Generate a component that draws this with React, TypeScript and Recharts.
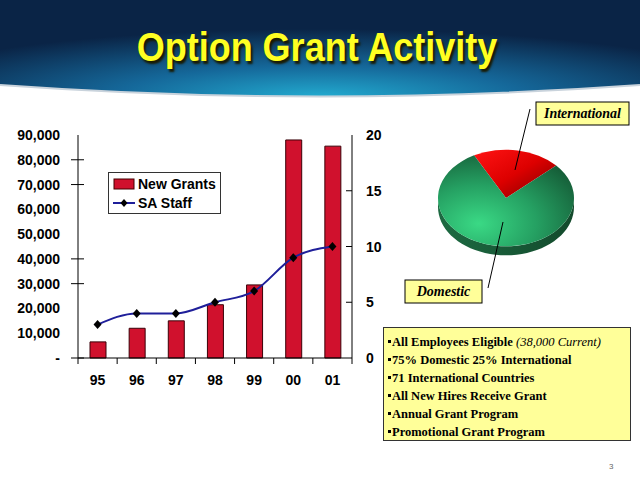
import React from "react";
import { ComposedChart, Bar, Line, XAxis, YAxis, Legend, PieChart, Pie, Cell } from "recharts";

// bar + line data
const years = ["95", "96", "97", "98", "99", "00", "01"];
const newGrants = [6500, 12000, 15000, 21500, 29500, 88000, 85500];
const saStaff = [3, 4, 4, 5, 6, 9, 10];
const grantTicks = [0, 10000, 20000, 30000, 40000, 50000, 60000, 70000, 80000, 90000];
const grantTickMarks = [0, 30000, 40000, 70000, 80000];
const staffTicks = [0, 5, 10, 15, 20];
const staffTickMarks = [5, 10, 15];

// pie data
const pieNames = ["International", "Domestic"];
const pieValues = [21, 79];
const pieFills = ["url(#redGrad)", "url(#greenGrad)"];

const bullets = [
  "All Employees Eligible",
  "75% Domestic 25% International",
  "71 International Countries",
  "All New Hires Receive Grant",
  "Annual Grant Program",
  "Promotional Grant Program",
];
const bulletNote = "(38,000 Current)";

const chartData = years.map((y, i) => ({ year: y, grants: newGrants[i], staff: saStaff[i] }));
const pieData = pieNames.map((n, i) => ({ name: n, value: pieValues[i] }));

const SANS = "'Liberation Sans', Arial, sans-serif";
const SERIF = "'Liberation Serif', 'Times New Roman', serif";

function GrantTick(props: any) {
  const { x, y, payload } = props;
  const v = payload.value as number;
  const axisX = x + 18;
  return (
    <g>
      {grantTickMarks.includes(v) && <line x1={axisX - 7} x2={axisX + 6} y1={y} y2={y} stroke="#000" />}
      <text x={x} y={y} dy={5} textAnchor="end" fontFamily={SANS} fontWeight="bold" fontSize={14} fill="#000">
        {v === 0 ? "-" : v.toLocaleString("en-US")}
      </text>
    </g>
  );
}

function StaffTick(props: any) {
  const { x, y, payload } = props;
  const v = payload.value as number;
  const axisX = x - 14;
  return (
    <g>
      {staffTickMarks.includes(v) && <line x1={axisX - 6} x2={axisX} y1={y} y2={y} stroke="#000" />}
      <text x={x} y={y} dy={5} textAnchor="start" fontFamily={SANS} fontWeight="bold" fontSize={14} fill="#000">
        {v}
      </text>
    </g>
  );
}

function YearTick(props: any) {
  const { x, y, payload, index, visibleTicksCount } = props;
  const half = payload.offset || 19.6;
  const axisY = y - 14;
  return (
    <g>
      <line x1={x - half} x2={x - half} y1={axisY} y2={axisY + 6} stroke="#000" />
      {index === visibleTicksCount - 1 && <line x1={x + half} x2={x + half} y1={axisY} y2={axisY + 6} stroke="#000" />}
      <text x={x} y={axisY + 27} textAnchor="middle" fontFamily={SANS} fontWeight="bold" fontSize={14} fill="#000">
        {payload.value}
      </text>
    </g>
  );
}

function Diamond(props: any) {
  const { cx, cy, index } = props;
  return <path key={index} d={`M${cx},${cy - 4.5}L${cx + 4},${cy}L${cx},${cy + 4.5}L${cx - 4},${cy}Z`} fill="#000" />;
}

function LegendBox(props: any) {
  const items = props.payload || [];
  return (
    <div
      style={{
        border: "1px solid #333",
        width: 111,
        height: 39,
        background: "#fff",
        fontFamily: SANS,
        fontWeight: "bold",
        fontSize: 14,
        color: "#000",
        paddingTop: 1,
        boxSizing: "content-box",
      }}
    >
      {items.map((it: any, i: number) => (
        <div key={i} style={{ display: "flex", alignItems: "center", height: 19 }}>
          <svg width={28} height={14} style={{ marginLeft: 3 }}>
            {it.type === "line" ? (
              <g>
                <line x1={1} x2={23} y1={7} y2={7} stroke={it.color} strokeWidth={2} />
                <path d="M12,3L15.5,7L12,11L8.5,7Z" fill="#000" />
              </g>
            ) : (
              <rect x={2} y={2} width={20} height={10} fill={it.color} stroke="#400" strokeWidth={1} />
            )}
          </svg>
          <span style={{ marginLeft: -2 }}>{it.value}</span>
        </div>
      ))}
    </div>
  );
}

// tilted (3D look) pie slice drawn on an ellipse
const TILT = 0.71;
const DEPTH = 9;
function ept(cx: number, cy: number, rx: number, a: number, dy = 0) {
  const r = (a * Math.PI) / 180;
  return [cx + rx * Math.cos(r), cy - rx * TILT * Math.sin(r) + dy];
}

function TiltSlice(props: any) {
  const { cx, cy, outerRadius, startAngle, endAngle, fill } = props;
  const rx = outerRadius;
  const ry = rx * TILT;
  const s = ept(cx, cy, rx, startAngle);
  const e = ept(cx, cy, rx, endAngle);
  const span = Math.abs(endAngle - startAngle);
  const sweep = startAngle > endAngle ? 1 : 0;
  const large = span > 180 ? 1 : 0;
  const top = `M${cx},${cy}L${s[0]},${s[1]}A${rx},${ry} 0 ${large} ${sweep} ${e[0]},${e[1]}Z`;

  const lo = Math.min(startAngle, endAngle);
  const hi = Math.max(startAngle, endAngle);
  const sides: string[] = [];
  [-720, -360, 0, 360].forEach((k) => {
    const a = Math.max(lo, -180 + k);
    const b = Math.min(hi, k);
    if (b > a) {
      const pts: number[][] = [];
      const n = 40;
      for (let i = 0; i <= n; i++) pts.push(ept(cx, cy, rx, a + ((b - a) * i) / n));
      for (let i = n; i >= 0; i--) pts.push(ept(cx, cy, rx, a + ((b - a) * i) / n, DEPTH));
      sides.push("M" + pts.map((p) => `${p[0].toFixed(2)},${p[1].toFixed(2)}`).join("L") + "Z");
    }
  });

  return (
    <g>
      {sides.map((d, i) => (
        <path key={i} d={d} fill="url(#sideGrad)" />
      ))}
      <path d={top} fill={fill} />
    </g>
  );
}

const calloutSpots = [
  { bx: 30, by: -96, bw: 93, lx1: 24, ly1: -89, lx2: 9, ly2: -28 },
  { bx: -101, by: 82, bw: 77, lx1: -18, ly1: 90, lx2: -3, ly2: 24 },
];

function Callout(props: any) {
  const { cx, cy, index } = props;
  const c = calloutSpots[index];
  if (!c) return null;
  return (
    <g>
      <line x1={cx + c.lx1} y1={cy + c.ly1} x2={cx + c.lx2} y2={cy + c.ly2} stroke="#000" strokeWidth={1} />
      <rect x={cx + c.bx} y={cy + c.by} width={c.bw} height={23} fill="#ffff99" stroke="#000" strokeWidth={1} />
      <text
        x={cx + c.bx + c.bw / 2}
        y={cy + c.by + 16}
        textAnchor="middle"
        fontFamily={SERIF}
        fontWeight="bold"
        fontStyle="italic"
        fontSize={14}
        fill="#000"
      >
        {pieNames[index]}
      </text>
    </g>
  );
}

export default function App() {
  return (
    <div style={{ position: "absolute", left: 0, top: 0, width: 640, height: 480, background: "#fff", overflow: "hidden" }}>
      {/* banner */}
      <svg width={640} height={110} style={{ position: "absolute", left: 0, top: 0 }}>
        <defs>
          <radialGradient id="banner" cx="50%" cy="100%" r="70%">
            <stop offset="0%" stopColor="#22aacf" />
            <stop offset="45%" stopColor="#15689a" />
            <stop offset="100%" stopColor="#0a2446" />
          </radialGradient>
        </defs>
        <path d="M0,0H640V85Q320,108 0,85Z" fill="url(#banner)" />
        <path d="M0,85Q320,108 640,85" fill="none" stroke="#c9d3dc" strokeWidth={2} />
      </svg>
      <div
        style={{
          position: "absolute",
          left: 0,
          top: 27,
          width: 634,
          textAlign: "center",
          fontFamily: SANS,
          fontWeight: "bold",
          fontSize: 36,
          color: "#ffff22",
          textShadow: "2px 2px 2px #1a1a00",
          transform: "scaleY(1.12)",
        }}
      >
        Option Grant Activity
      </div>

      <div style={{ position: "absolute", left: 0, top: 0 }}>
        <ComposedChart width={420} height={400} data={chartData} margin={{ top: 135, right: 20, left: 8, bottom: 12 }}>
          <XAxis
            dataKey="year"
            height={30}
            axisLine={{ stroke: "#000" }}
            tickLine={false}
            tickSize={6}
            tickMargin={8}
            tick={<YearTick />}
            interval={0}
          />
          <YAxis
            yAxisId="left"
            orientation="left"
            width={70}
            domain={[0, 90000]}
            ticks={grantTicks}
            interval={0}
            axisLine={{ stroke: "#000" }}
            tickLine={false}
            tickSize={6}
            tickMargin={12}
            tick={<GrantTick />}
          />
          <YAxis
            yAxisId="right"
            orientation="right"
            width={48}
            domain={[0, 20]}
            ticks={staffTicks}
            interval={0}
            axisLine={{ stroke: "#000" }}
            tickLine={false}
            tickSize={6}
            tickMargin={8}
            tick={<StaffTick />}
          />
          <Legend
            layout="vertical"
            align="center"
            verticalAlign="middle"
            content={<LegendBox />}
            wrapperStyle={{ left: 108, top: 172, width: 113, height: 41 }}
          />
          <Bar
            yAxisId="left"
            dataKey="grants"
            name="New Grants"
            fill="#d0112d"
            stroke="#3a0008"
            strokeWidth={1}
            barSize={16}
            isAnimationActive={false}
          />
          <Line
            yAxisId="right"
            dataKey="staff"
            name="SA Staff"
            type="monotone"
            stroke="#1f1f9a"
            strokeWidth={2}
            dot={<Diamond />}
            activeDot={false}
            legendType="line"
            isAnimationActive={false}
          />
        </ComposedChart>
      </div>

      <div style={{ position: "absolute", left: 390, top: 90 }}>
        <PieChart width={250} height={220} margin={{ top: 0, right: 0, bottom: 0, left: 0 }}>
          <defs>
            <radialGradient id="greenGrad" cx="30%" cy="75%" r="85%">
              <stop offset="0%" stopColor="#3ad985" />
              <stop offset="50%" stopColor="#25a062" />
              <stop offset="100%" stopColor="#155c37" />
            </radialGradient>
            <linearGradient id="redGrad" x1="0" y1="0" x2="1" y2="1">
              <stop offset="0%" stopColor="#ff1414" />
              <stop offset="50%" stopColor="#dd0000" />
              <stop offset="100%" stopColor="#780000" />
            </linearGradient>
            <linearGradient id="sideGrad" x1="0" y1="0" x2="1" y2="0">
              <stop offset="0%" stopColor="#1d6a42" />
              <stop offset="100%" stopColor="#134a2c" />
            </linearGradient>
          </defs>
          <Pie
            data={pieData}
            dataKey="value"
            nameKey="name"
            cx={116}
            cy={108}
            outerRadius={68}
            startAngle={118}
            endAngle={-242}
            stroke="none"
            shape={<TiltSlice />}
            label={Callout}
            labelLine={false}
            isAnimationActive={false}
          >
            {pieData.map((d, i) => (
              <Cell key={d.name} fill={pieFills[i]} />
            ))}
          </Pie>
        </PieChart>
      </div>

      <div
        style={{
          position: "absolute",
          left: 383,
          top: 327,
          width: 246,
          height: 112,
          background: "#ffff99",
          border: "1px solid #333",
          overflow: "hidden",
        }}
      >
        <div
          style={{
            padding: "5px 0 0 4px",
            fontFamily: SERIF,
            fontWeight: "bold",
            fontSize: 12.5,
            lineHeight: "18px",
            whiteSpace: "nowrap",
            color: "#000",
          }}
        >
          {bullets.map((b, i) => (
            <div key={i}>
              <span
                style={{
                  display: "inline-block",
                  width: 3,
                  height: 3,
                  background: "#000",
                  verticalAlign: "3px",
                  marginRight: 1,
                }}
              />
              {b}
              {i === 0 && <i style={{ fontWeight: "normal" }}> {bulletNote}</i>}
            </div>
          ))}
        </div>
      </div>

      <div style={{ position: "absolute", left: 609, top: 462, fontFamily: SANS, fontSize: 8, color: "#666" }}>3</div>
    </div>
  );
}
